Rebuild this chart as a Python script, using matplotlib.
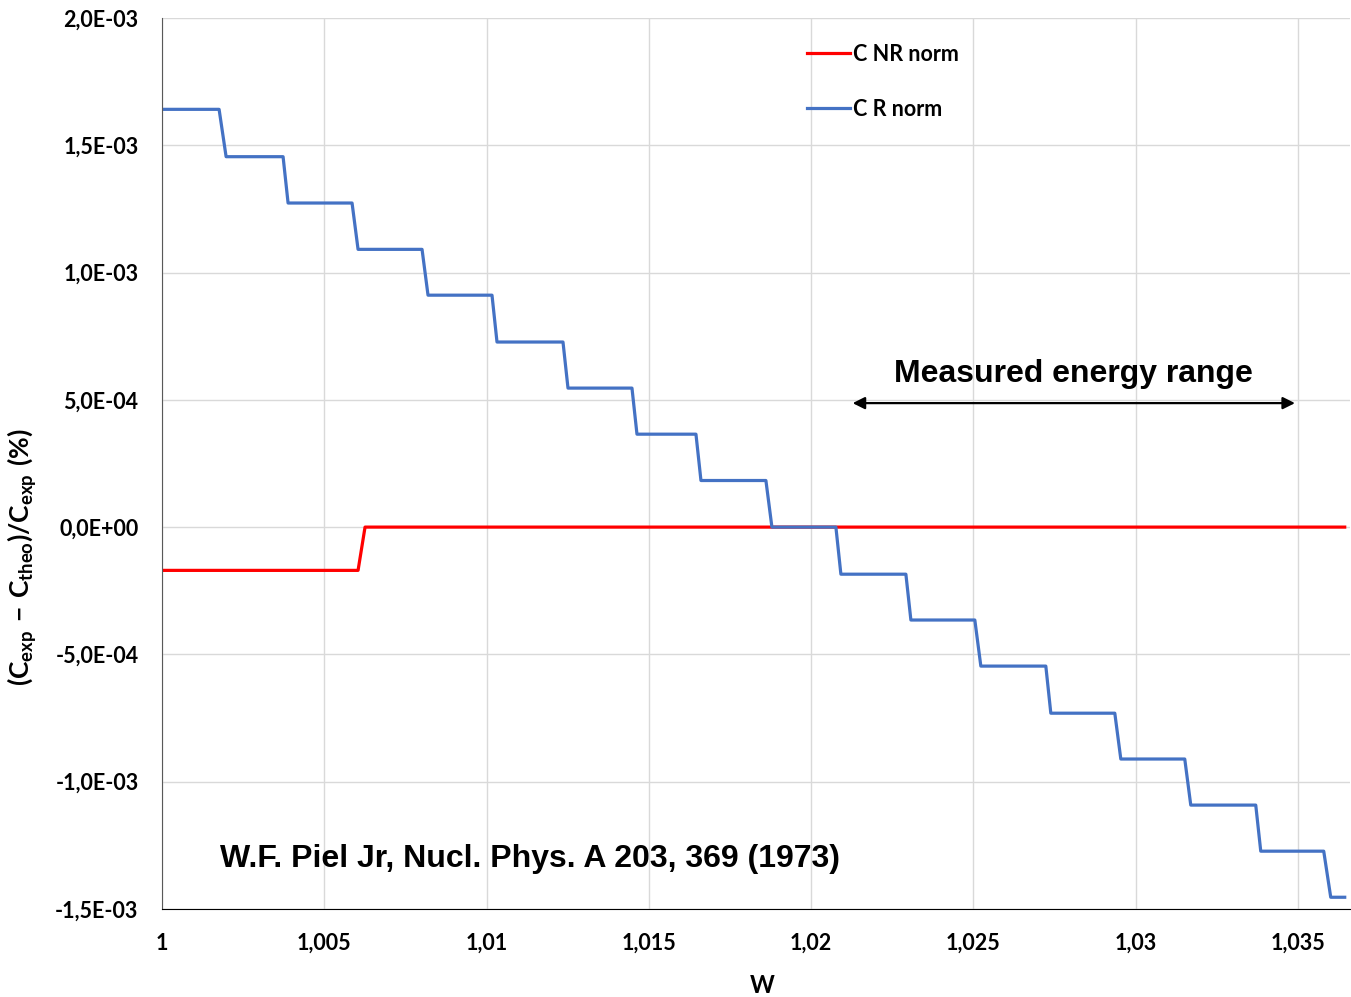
import matplotlib.pyplot as plt
import matplotlib.ticker as mticker

# corner points (W, relative deviation)
w_r = [1.0, 1.001756, 1.001972, 1.003728, 1.003882, 1.005854, 1.006039, 1.008011, 1.008195,
       1.010167, 1.010321, 1.012355, 1.012509, 1.014481, 1.014635, 1.016453, 1.016607,
       1.018609, 1.018794, 1.020766, 1.020920, 1.022923, 1.023077, 1.025048, 1.025233,
       1.027236, 1.027390, 1.029362, 1.029547, 1.031518, 1.031703, 1.033706, 1.033860,
       1.035801, 1.036017, 1.036448]
c_r = [1.641e-3, 1.641e-3, 1.455e-3, 1.455e-3, 1.273e-3, 1.273e-3, 1.091e-3, 1.091e-3, 0.911e-3,
       0.911e-3, 0.727e-3, 0.727e-3, 0.546e-3, 0.546e-3, 0.365e-3, 0.365e-3, 0.183e-3,
       0.183e-3, 0.0, 0.0, -0.185e-3, -0.185e-3, -0.365e-3, -0.365e-3, -0.546e-3,
       -0.546e-3, -0.731e-3, -0.731e-3, -0.911e-3, -0.911e-3, -1.092e-3, -1.092e-3, -1.273e-3,
       -1.273e-3, -1.454e-3, -1.454e-3]

w_nr = [1.0, 1.006039, 1.006254, 1.036448]
c_nr = [-0.170e-3, -0.170e-3, 0.0, 0.0]

arrow_w = (1.021197, 1.035)
arrow_y = 0.487e-3

plt.rcParams['mathtext.fontset'] = 'custom'
plt.rcParams['mathtext.bf'] = 'Lato:bold'
plt.rcParams['mathtext.rm'] = 'Lato'

fig = plt.figure(figsize=(13.51, 9.97), dpi=100)
ax = fig.add_axes([0.12, 0.0883, 0.879, 0.8937])

ax.plot(w_nr, c_nr, color='#FF0000', lw=2.3, label='C NR norm')
ax.plot(w_r, c_r, color='#4472C4', lw=2.3, label='C R norm')

ax.set_xlim(1.0, 1.0366)
ax.set_ylim(-1.5e-3, 2.0e-3)
ax.xaxis.set_major_locator(mticker.MultipleLocator(0.005))
ax.yaxis.set_major_locator(mticker.MultipleLocator(0.5e-3))
ax.xaxis.set_major_formatter(mticker.FuncFormatter(lambda v, p: f"{v:g}".replace('.', ',')))
ax.yaxis.set_major_formatter(mticker.FuncFormatter(lambda v, p: f"{v:.1E}".replace('.', ',')))

ax.grid(True, color='#d9d9d9', lw=1)
ax.set_axisbelow(True)
for s in ['top', 'right']:
    ax.spines[s].set_visible(False)
ax.spines['left'].set_color('#595959')
ax.spines['bottom'].set_color('black')
ax.tick_params(axis='y', length=0, pad=17)
ax.tick_params(axis='x', length=0, pad=17)
for lab in ax.get_xticklabels() + ax.get_yticklabels():
    lab.set_fontfamily('Lato')
    lab.set_fontweight('bold')
    lab.set_fontsize(15.5)

fig.text(762 / 1351, 1 - 985 / 997, 'W', fontfamily='Lato', fontweight='bold', fontsize=17,
         ha='center', va='center')
fig.text(22 / 1351, 1 - 557 / 997, r'$\mathbf{(C_{exp}\ {-}\ C_{theo})/C_{exp}\ (\%)}$',
         fontsize=19, rotation=90, ha='center', va='center')

leg = ax.legend(loc='upper left', bbox_to_anchor=(0.527, 0.993), frameon=False,
                handlelength=2.0, handletextpad=0.1, labelspacing=1.6,
                prop={'family': 'Lato', 'weight': 'bold', 'size': 15.5})

ax.annotate('', xy=(arrow_w[0], arrow_y), xytext=(arrow_w[1], arrow_y),
            arrowprops=dict(arrowstyle='<|-|>', color='black', lw=1.6, mutation_scale=18))
ax.text(sum(arrow_w) / 2, 0.60e-3, 'Measured energy range', ha='center', va='center',
        fontfamily='Liberation Sans', fontweight='bold', fontsize=23)
ax.text(1.00179, -1.305e-3, 'W.F. Piel Jr, Nucl. Phys. A 203, 369 (1973)', ha='left', va='center',
        fontfamily='Liberation Sans', fontweight='bold', fontsize=23)

fig.savefig('out.png', dpi=100)
